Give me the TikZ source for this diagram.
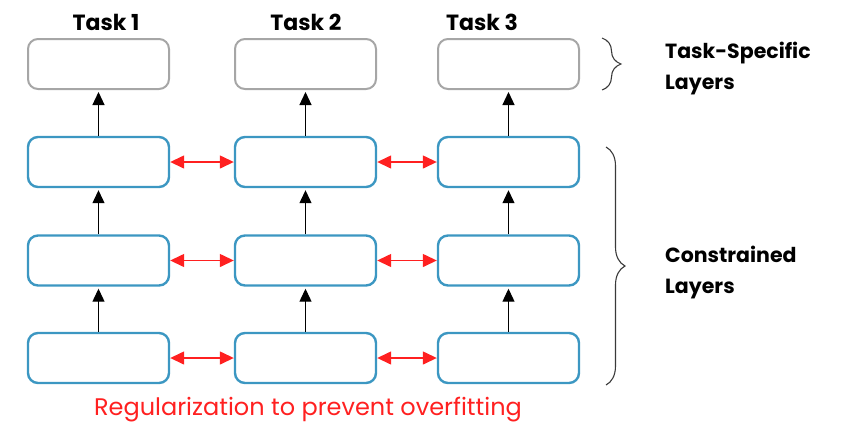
\documentclass[tikz,border=0pt]{standalone}
\usepackage{fontspec}
\setmainfont{Poppins}
\usetikzlibrary{arrows.meta,decorations.pathreplacing}

\definecolor{layerblue}{HTML}{3C97C2}
\definecolor{headgray}{HTML}{A6A6A6}
\definecolor{regred}{HTML}{FF2020}
\definecolor{bracegray}{HTML}{3A3A3A}

\tikzset{
  layerbox/.style={draw=layerblue, line width=2.4pt, rounded corners=10pt,
    minimum width=141pt, minimum height=50pt, inner sep=0pt, fill=white},
  headbox/.style={layerbox, draw=headgray, line width=2pt},
  uparrow/.style={line width=1.2pt, -{Triangle[length=13pt,width=12pt]}, shorten >=2pt},
  regarrow/.style={draw=regred, line width=1.4pt,
    {Triangle[length=14pt,width=13pt]}-{Triangle[length=14pt,width=13pt]},
    color=regred},
  tasklabel/.style={font=\fontsize{22pt}{26pt}\selectfont\bfseries},
  sidelabel/.style={font=\fontsize{20.5pt}{31pt}\selectfont\bfseries, align=left, anchor=west, inner sep=0pt},
  sidebrace/.style={decorate, decoration={brace, amplitude=19pt, aspect=0.5},
    draw=bracegray, line width=1.1pt}
}

\begin{document}
\begin{tikzpicture}[x=1pt, y=-1pt]
  \useasboundingbox (0,0) rectangle (843,424);

  % task heads
  \node[headbox] (h1) at (98.5,64) {};
  \node[headbox] (h2) at (305.5,64) {};
  \node[headbox] (h3) at (508.5,64) {};

  % shared, constrained layers
  \foreach \c/\x in {1/98.5, 2/305.5, 3/508.5}{
    \node[layerbox] (a\c) at (\x,162) {};
    \node[layerbox] (b\c) at (\x,260.5) {};
    \node[layerbox] (c\c) at (\x,358) {};
  }

  % task titles
  \node[tasklabel] (t1) at (106,22) {Task 1};
  \node[tasklabel] (t2) at (306,22) {Task 2};
  \node[tasklabel] (t3) at (482,22) {Task 3};

  % forward connections
  \foreach \c in {1,2,3}{
    \draw[uparrow] (c\c.north) -- (b\c.south);
    \draw[uparrow] (b\c.north) -- (a\c.south);
    \draw[uparrow] (a\c.north) -- (h\c.south);
  }

  % regularization links between tasks
  \foreach \r in {a,b,c}{
    \draw[regarrow] (\r1.east) -- (\r2.west);
    \draw[regarrow] (\r2.east) -- (\r3.west);
  }

  % braces and side labels
  \coordinate (tbTop) at (602,38);
  \coordinate (tbBot) at (602,90);
  \coordinate (cbTop) at (606,147);
  \coordinate (cbBot) at (606,385);
  \draw[sidebrace] (tbTop) -- (tbBot);
  \draw[sidebrace] (cbTop) -- (cbBot);

  \node[sidelabel] (ts) at (665,69) {Task-Specific\\Layers};
  \node[sidelabel] (cl) at (665,272) {Constrained\\Layers};

  % caption
  \node[font=\fontsize{24pt}{28pt}\selectfont, text=regred] (reg) at (308,410) {Regularization to prevent overfitting};
\end{tikzpicture}
\end{document}
